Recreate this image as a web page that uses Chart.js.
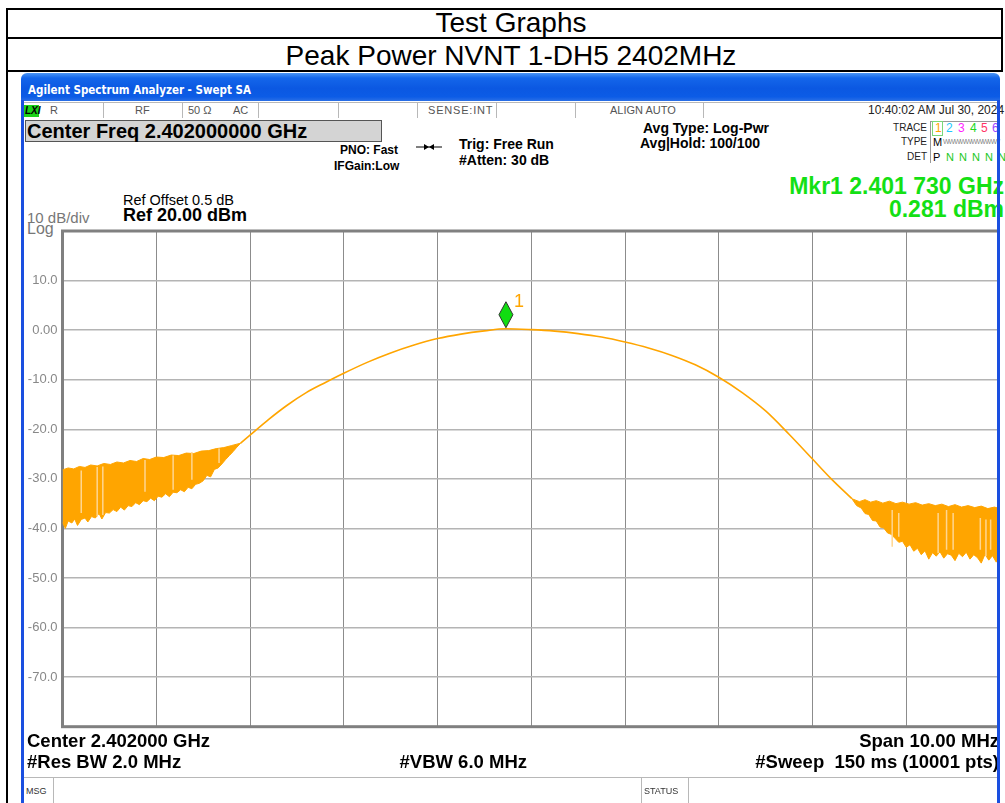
<!DOCTYPE html>
<html>
<head>
<meta charset="utf-8">
<script src="https://cdn.jsdelivr.net/npm/chart.js@4.4.1/dist/chart.umd.min.js"></script>
<style>
  body { margin: 0; width: 1005px; height: 803px; overflow: hidden; background: #fff; position: relative;
         font-family: "Liberation Sans", Arial, sans-serif; }
  .t { position: absolute; white-space: nowrap; line-height: 1; }
  .b { font-weight: bold; }
  .ln { position: absolute; background: #000; }
  .g { position: absolute; background: #b8b8b8; }
  .st { color: #555; font-size: 11px; }
  #plot { position: absolute; left: 24px; top: 226px; }
</style>
</head>
<body>
<!-- table -->
<div class="ln" style="left:6px;top:8px;width:997px;height:2px"></div>
<div class="ln" style="left:6px;top:37px;width:997px;height:2px"></div>
<div class="ln" style="left:6px;top:70px;width:997px;height:2px"></div>
<div class="ln" style="left:6px;top:8px;width:2px;height:795px"></div>
<div class="ln" style="left:1001px;top:8px;width:2px;height:64px"></div>
<div class="t" style="left:311px;width:400px;text-align:center;top:9px;font-size:28px">Test Graphs</div>
<div class="t" style="left:211px;width:600px;text-align:center;top:42px;font-size:28px">Peak Power NVNT 1-DH5 2402MHz</div>

<!-- analyzer window -->
<div style="position:absolute;left:21px;top:73px;width:979px;height:28px;border-radius:6px 6px 0 0;
  background:linear-gradient(#4a95f5 0%,#1466ea 18%,#0b58e2 55%,#0c5ce6 85%,#2a6fe6 100%)"></div>
<div class="t b" style="left:28px;top:85px;font-size:11.5px;color:#fff;font-family:'DejaVu Sans Condensed','Liberation Sans',sans-serif">Agilent Spectrum Analyzer - Swept SA</div>
<div style="position:absolute;left:21px;top:100px;width:3px;height:710px;background:#1a4fe0"></div>
<div style="position:absolute;left:997px;top:100px;width:3px;height:710px;background:#1a4fe0;z-index:5"></div>

<!-- status row -->
<div class="g" style="left:24px;top:102px;width:973px;height:1px"></div>
<div style="position:absolute;left:24px;top:105px;width:15px;height:12px;background:#1ad21a"></div>
<div class="t b" style="left:25px;top:106px;font-size:10px;font-style:italic;color:#000">LXI</div>
<div class="t st" style="left:50px;top:105px">R</div>
<div class="t st" style="left:135px;top:105px">RF</div>
<div class="t st" style="left:188px;top:105px">50 Ω</div>
<div class="t st" style="left:233px;top:105px">AC</div>
<div class="t st" style="left:428px;top:105px;letter-spacing:0.8px">SENSE:INT</div>
<div class="t st" style="left:610px;top:105px">ALIGN AUTO</div>
<div class="t st" style="left:868px;top:104px;color:#222;font-size:12px">10:40:02 AM Jul 30, 2024</div>
<div class="g" style="left:103px;top:102px;width:1px;height:16px"></div>
<div class="g" style="left:182px;top:102px;width:1px;height:16px"></div>
<div class="g" style="left:258px;top:102px;width:1px;height:16px"></div>
<div class="g" style="left:338px;top:102px;width:1px;height:16px"></div>
<div class="g" style="left:417px;top:102px;width:1px;height:16px"></div>
<div class="g" style="left:496px;top:102px;width:1px;height:16px"></div>
<div class="g" style="left:575px;top:102px;width:1px;height:16px"></div>
<div class="g" style="left:703px;top:102px;width:1px;height:16px"></div>

<!-- settings -->
<div style="position:absolute;left:25px;top:120px;width:355px;height:20px;background:#d4d4d4;border:1px solid #555"></div>
<div class="t b" style="left:27px;top:121px;font-size:20px">Center Freq 2.402000000 GHz</div>
<div class="t b" style="left:340px;top:144px;font-size:12px">PNO: Fast</div>
<div class="t b" style="left:334px;top:160px;font-size:12px">IFGain:Low</div>
<svg style="position:absolute;left:416px;top:142px" width="26" height="10">
  <line x1="0" y1="5" x2="26" y2="5" stroke="#000" stroke-width="1"/>
  <polygon points="8,2 13,5 8,8" fill="#000"/><polygon points="18,2 13,5 18,8" fill="#000"/>
</svg>
<div class="t b" style="left:459px;top:137px;font-size:14px">Trig: Free Run</div>
<div class="t b" style="left:459px;top:153px;font-size:14px">#Atten: 30 dB</div>
<div class="t b" style="left:643px;top:121px;font-size:14px">Avg Type: Log-Pwr</div>
<div class="t b" style="left:640px;top:136px;font-size:14px">Avg|Hold: 100/100</div>

<!-- trace table -->
<div class="t" style="left:880px;width:47px;text-align:right;top:123px;font-size:10px;color:#222">TRACE</div>
<div class="t" style="left:880px;width:47px;text-align:right;top:137px;font-size:10px;color:#222">TYPE</div>
<div class="t" style="left:880px;width:47px;text-align:right;top:152px;font-size:10px;color:#222">DET</div>
<div class="g" style="left:930px;top:121px;width:1px;height:42px;background:#999"></div>
<div class="g" style="left:930px;top:121px;width:70px;height:1px;background:#999"></div>
<div style="position:absolute;left:932px;top:121px;width:9px;height:13px;border:1px solid #7ad87a"></div>
<div class="t" style="left:935px;top:122px;font-size:12px;color:#ffa500">1</div>
<div class="t" style="left:946px;top:122px;font-size:12px;color:#1ec8ff">2</div>
<div class="t" style="left:958px;top:122px;font-size:12px;color:#ff22ff">3</div>
<div class="t" style="left:970px;top:122px;font-size:12px;color:#22d822">4</div>
<div class="t" style="left:981px;top:122px;font-size:12px;color:#ff3366">5</div>
<div class="t" style="left:992px;top:122px;font-size:12px;color:#9a44ff">6</div>
<div class="t" style="left:933px;top:137px;font-size:11px">M</div>
<div class="t" style="left:943px;top:138px;font-size:7px;color:#888;letter-spacing:-1px">WWWWWWWWWW</div>
<div class="t" style="left:933px;top:152px;font-size:11px">P</div>
<div class="t" style="left:946px;top:152px;font-size:11px;color:#22c822;word-spacing:2px">N N N N N</div>

<!-- marker readout -->
<div class="t b" style="right:1px;top:175px;font-size:23px;color:#14e014">Mkr1 2.401 730 GHz</div>
<div class="t b" style="right:1px;top:198px;font-size:23px;color:#14e014">0.281 dBm</div>

<!-- reference -->
<div class="t" style="left:123px;top:193px;font-size:14.5px">Ref Offset 0.5 dB</div>
<div class="t b" style="left:123px;top:206px;font-size:18px">Ref 20.00 dBm</div>
<div class="t" style="left:27px;top:210px;font-size:15px;color:#777">10 dB/div</div>
<div class="t" style="left:27px;top:221px;font-size:16px;color:#777">Log</div>

<canvas id="plot" width="976" height="506"></canvas>

<!-- bottom annotations -->
<div class="t b" style="left:27px;top:732px;font-size:18.5px">Center 2.402000 GHz</div>
<div class="t b" style="left:27px;top:753px;font-size:18.5px">#Res BW 2.0 MHz</div>
<div class="t b" style="left:327px;width:200px;text-align:right;top:753px;font-size:18.5px">#VBW 6.0 MHz</div>
<div class="t b" style="left:700px;width:299px;text-align:right;top:732px;font-size:18.5px">Span 10.00 MHz</div>
<div class="t b" style="left:650px;width:349px;text-align:right;top:753px;font-size:18.5px;white-space:pre">#Sweep  150 ms (10001 pts)</div>
<div class="g" style="left:24px;top:777px;width:973px;height:1px"></div>
<div class="g" style="left:53px;top:777px;width:1px;height:26px"></div>
<div class="g" style="left:641px;top:777px;width:1px;height:26px"></div>
<div class="g" style="left:688px;top:777px;width:1px;height:26px"></div>
<div class="t" style="left:26px;top:787px;font-size:9px;color:#333">MSG</div>
<div class="t" style="left:644px;top:787px;font-size:9px;color:#333">STATUS</div>

<script>
const ORANGE = '#ffa500';
const STREAK = '#ffd690';

// frequency axis in MHz, level axis in dBm
const freqRange = [2397, 2407];
const levelRange = [-80, 20];

// smooth part of the trace
const curveFreq = [2398.90, 2399.00, 2399.20, 2399.40, 2399.60, 2399.80, 2400.00, 2400.25, 2400.50, 2400.75,
  2401.00, 2401.25, 2401.50, 2401.73, 2402.00, 2402.25, 2402.50, 2402.75, 2403.00, 2403.25,
  2403.50, 2403.75, 2404.00, 2404.25, 2404.50, 2404.75, 2405.00, 2405.20, 2405.42];
const curveLevel = [-22.8, -21.2, -18.0, -15.1, -12.6, -10.6, -8.7, -6.5, -4.6, -3.0,
  -1.7, -0.8, -0.15, 0.28, 0.1, -0.2, -0.7, -1.4, -2.4, -3.6,
  -5.1, -7.0, -9.5, -12.6, -16.3, -21.0, -26.0, -30.0, -34.0];

// noisy band left of the signal (upper and lower edge)
const leftTopFreq = [2397.00, 2397.06, 2397.12, 2397.18, 2397.24, 2397.30, 2397.37, 2397.44, 2397.51, 2397.58,
  2397.65, 2397.72, 2397.79, 2397.86, 2397.93, 2398.00, 2398.08, 2398.16, 2398.24, 2398.32,
  2398.40, 2398.48, 2398.56, 2398.64, 2398.72, 2398.80, 2398.90];
const leftTopLevel = [-28.2, -27.8, -28.0, -27.5, -27.7, -27.2, -27.4, -26.9, -27.1, -26.6,
  -26.8, -26.3, -26.5, -25.9, -26.1, -25.6, -25.7, -25.2, -25.3, -24.8,
  -24.9, -24.4, -24.3, -23.9, -23.7, -23.3, -22.8];
const leftLowFreq = [2397.00, 2397.03, 2397.06, 2397.10, 2397.13, 2397.16, 2397.20, 2397.24, 2397.27, 2397.31,
  2397.35, 2397.39, 2397.42, 2397.46, 2397.50, 2397.54, 2397.58, 2397.62, 2397.66, 2397.70,
  2397.74, 2397.78, 2397.82, 2397.86, 2397.90, 2397.94, 2397.98, 2398.02, 2398.06, 2398.10,
  2398.14, 2398.18, 2398.22, 2398.26, 2398.30, 2398.34, 2398.38, 2398.42, 2398.46, 2398.50,
  2398.54, 2398.58, 2398.62, 2398.66, 2398.70, 2398.74, 2398.78, 2398.82, 2398.86, 2398.90];
const leftLowLevel = [-38.8, -40.0, -38.5, -38.9, -38.1, -39.4, -38.2, -37.9, -38.7, -37.6,
  -37.9, -37.0, -38.1, -36.8, -36.9, -36.2, -36.6, -35.7, -36.3, -35.4,
  -35.6, -34.8, -35.2, -34.4, -34.6, -33.9, -34.4, -33.5, -33.7, -33.0,
  -33.6, -32.7, -32.8, -32.2, -32.6, -31.7, -32.0, -31.1, -30.9, -30.4,
  -29.3, -29.6, -28.1, -27.8, -27.0, -26.1, -25.3, -24.5, -23.6, -22.8];

// noisy band right of the signal
const rightTopFreq = [2405.42, 2405.50, 2405.56, 2405.62, 2405.68, 2405.75, 2405.82, 2405.89, 2405.96, 2406.03,
  2406.10, 2406.17, 2406.24, 2406.31, 2406.38, 2406.45, 2406.52, 2406.59, 2406.66, 2406.73,
  2406.80, 2406.87, 2406.94, 2407.00];
const rightTopLevel = [-34.0, -34.6, -34.2, -34.7, -34.4, -34.9, -34.5, -35.0, -34.7, -35.1,
  -34.8, -35.3, -35.0, -35.4, -35.1, -35.6, -35.2, -35.7, -35.4, -35.8,
  -35.5, -36.0, -35.7, -36.0];
const rightLowFreq = [2405.42, 2405.47, 2405.52, 2405.56, 2405.60, 2405.64, 2405.68, 2405.72, 2405.76, 2405.80,
  2405.84, 2405.88, 2405.92, 2405.96, 2406.00, 2406.04, 2406.08, 2406.12, 2406.16, 2406.20,
  2406.24, 2406.28, 2406.32, 2406.36, 2406.40, 2406.44, 2406.48, 2406.52, 2406.56, 2406.60,
  2406.64, 2406.68, 2406.72, 2406.76, 2406.80, 2406.84, 2406.88, 2406.92, 2406.96, 2407.00];
const rightLowLevel = [-34.0, -35.4, -35.9, -37.0, -37.2, -38.4, -38.5, -39.7, -39.9, -40.9,
  -41.2, -42.0, -42.8, -42.6, -43.8, -43.3, -44.6, -44.0, -45.3, -44.5,
  -46.2, -44.9, -45.6, -44.7, -46.0, -45.1, -45.4, -46.5, -45.0, -45.7,
  -44.8, -46.2, -45.3, -45.9, -47.0, -45.2, -46.4, -45.5, -46.8, -45.9];

// pale vertical streaks inside the bands
const streakFreq = [2397.20, 2397.37, 2397.43, 2397.88, 2398.18, 2398.38, 2398.67,
  2405.85, 2405.92, 2406.34, 2406.43, 2406.50, 2406.79, 2406.85, 2406.90];
const streakTop = [-28.3, -27.6, -27.5, -26.2, -25.3, -24.6, -23.9,
  -36.3, -36.9, -36.9, -36.3, -36.9, -37.9, -38.2, -38.2];
const streakBottom = [-36.9, -37.6, -37.3, -32.6, -32.2, -30.2, -26.8,
  -43.7, -41.7, -45.0, -44.3, -44.3, -44.3, -45.6, -44.3];

const markerFreq = 2401.73;
const markerLevel = 0.281;

const zip = (xs, ys) => xs.map((x, i) => ({x, y: ys[i]}));

function lineSet(data, extra) {
  return {data, borderColor: ORANGE, backgroundColor: ORANGE, borderWidth: 1,
    pointRadius: 0, tension: 0, fill: false, ...extra};
}

const streaks = streakFreq.flatMap((x, i) => [{x, y: streakTop[i]}, {x, y: streakBottom[i]}, {x, y: null}]);

const framePlugin = {
  id: 'frame',
  beforeDatasetsDraw(chart) {
    const {ctx, chartArea: a} = chart;
    ctx.save();
    ctx.strokeStyle = '#808080';
    ctx.lineWidth = 3;
    ctx.strokeRect(a.left, a.top, a.right - a.left, a.bottom - a.top);
    ctx.restore();
  },
};

const markerPlugin = {
  id: 'marker',
  afterDatasetsDraw(chart) {
    const {ctx, scales} = chart;
    const px = scales.x.getPixelForValue(markerFreq);
    const py = scales.y.getPixelForValue(markerLevel) - 1;
    ctx.save();
    ctx.beginPath();
    ctx.moveTo(px, py);
    ctx.lineTo(px + 7, py - 13);
    ctx.lineTo(px, py - 26);
    ctx.lineTo(px - 7, py - 13);
    ctx.closePath();
    ctx.fillStyle = '#11dd11';
    ctx.fill();
    ctx.strokeStyle = '#333';
    ctx.lineWidth = 1;
    ctx.stroke();
    ctx.fillStyle = ORANGE;
    ctx.font = '18px "Liberation Sans", Arial, sans-serif';
    ctx.textBaseline = 'middle';
    ctx.fillText('1', px + 8, py - 26);
    ctx.restore();
  },
};

new Chart(document.getElementById('plot'), {
  type: 'line',
  data: {
    datasets: [
      lineSet(zip(leftTopFreq, leftTopLevel), {fill: '+1', order: 2}),
      lineSet(zip(leftLowFreq, leftLowLevel), {order: 2}),
      lineSet(zip(rightTopFreq, rightTopLevel), {fill: '+1', order: 2}),
      lineSet(zip(rightLowFreq, rightLowLevel), {order: 2}),
      lineSet(streaks, {borderColor: STREAK, borderWidth: 1.5, spanGaps: false, order: 1}),
      lineSet(zip(curveFreq, curveLevel), {borderWidth: 1.6, cubicInterpolationMode: 'monotone', order: 0}),
    ],
  },
  options: {
    responsive: false,
    animation: false,
    layout: {padding: {top: 5, bottom: 5.3, left: 0, right: 0}},
    plugins: {legend: {display: false}, tooltip: {enabled: false}},
    scales: {
      x: {
        type: 'linear', min: freqRange[0], max: freqRange[1],
        ticks: {display: false, stepSize: 1},
        grid: {color: '#8c8c8c', lineWidth: 1, drawTicks: false},
        border: {display: false},
      },
      y: {
        min: levelRange[0], max: levelRange[1],
        ticks: {
          stepSize: 10, padding: 5, color: '#888',
          font: {size: 13, family: '"Liberation Sans", Arial, sans-serif'},
          callback: (v) => (v === levelRange[0] || v === levelRange[1]) ? '' : (v === 0 ? '0.00' : v.toFixed(1)),
        },
        grid: {color: '#b4b4b4', lineWidth: 1.5, drawTicks: false},
        border: {display: false},
        afterFit(scale) {
          scale.width = 38.5;
          scale.paddingTop = 0;
          scale.paddingBottom = 0;
        },
      },
    },
  },
  plugins: [framePlugin, markerPlugin],
});
</script>
</body>
</html>
